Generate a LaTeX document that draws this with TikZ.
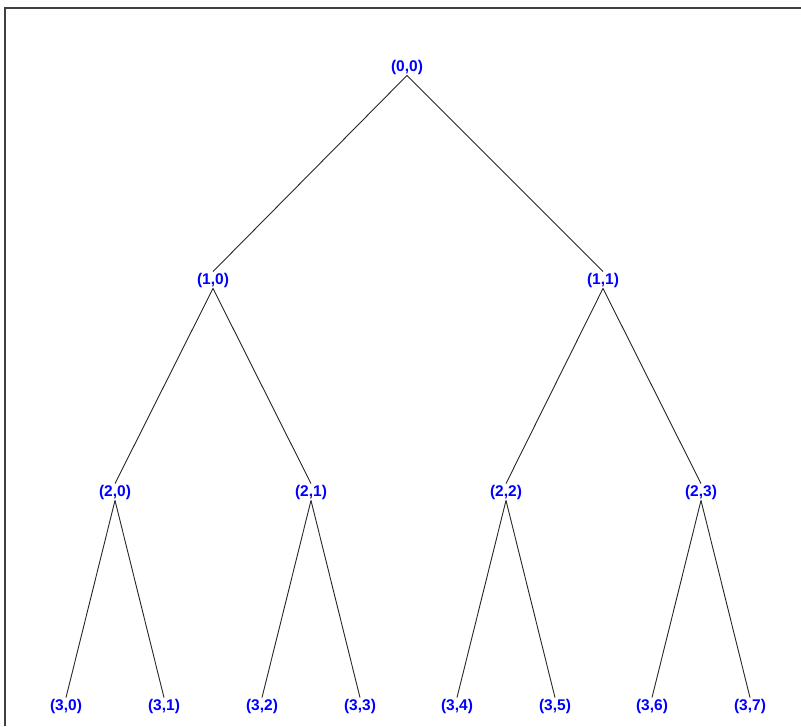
\documentclass[tikz,border=0pt]{standalone}
\usepackage{fontspec}
\setmainfont{Liberation Sans}
\begin{document}
\begin{tikzpicture}[x=1pt,y=-1pt,
  lbl/.style={text=blue,font=\bfseries\fontsize{15.5}{18}\selectfont,inner sep=1pt,anchor=center},
  edge/.style={draw=black!85,line width=0.9pt},
  frame/.style={draw=black!75,line width=1.5pt}]
\useasboundingbox (0,0) rectangle (801,726);
\draw[frame] (801,8) -- (5,8) -- (5,726);
\node[lbl] (n00) at (407,67) {(0,0)};
\node[lbl] (n10) at (213,280) {(1,0)};
\node[lbl] (n11) at (603,280) {(1,1)};
\node[lbl] (n20) at (115,492) {(2,0)};
\node[lbl] (n21) at (311,492) {(2,1)};
\node[lbl] (n22) at (506,492) {(2,2)};
\node[lbl] (n23) at (701,492) {(2,3)};
\node[lbl] (n30) at (66,706) {(3,0)};
\node[lbl] (n31) at (164,706) {(3,1)};
\node[lbl] (n32) at (262,706) {(3,2)};
\node[lbl] (n33) at (360,706) {(3,3)};
\node[lbl] (n34) at (457,706) {(3,4)};
\node[lbl] (n35) at (555,706) {(3,5)};
\node[lbl] (n36) at (652,706) {(3,6)};
\node[lbl] (n37) at (750,706) {(3,7)};
\draw[edge] (n00.south) -- (n10.north);
\draw[edge] (n00.south) -- (n11.north);
\draw[edge] (n10.south) -- (n20.north);
\draw[edge] (n10.south) -- (n21.north);
\draw[edge] (n11.south) -- (n22.north);
\draw[edge] (n11.south) -- (n23.north);
\draw[edge] (n20.south) -- (n30.north);
\draw[edge] (n20.south) -- (n31.north);
\draw[edge] (n21.south) -- (n32.north);
\draw[edge] (n21.south) -- (n33.north);
\draw[edge] (n22.south) -- (n34.north);
\draw[edge] (n22.south) -- (n35.north);
\draw[edge] (n23.south) -- (n36.north);
\draw[edge] (n23.south) -- (n37.north);
\end{tikzpicture}
\end{document}
